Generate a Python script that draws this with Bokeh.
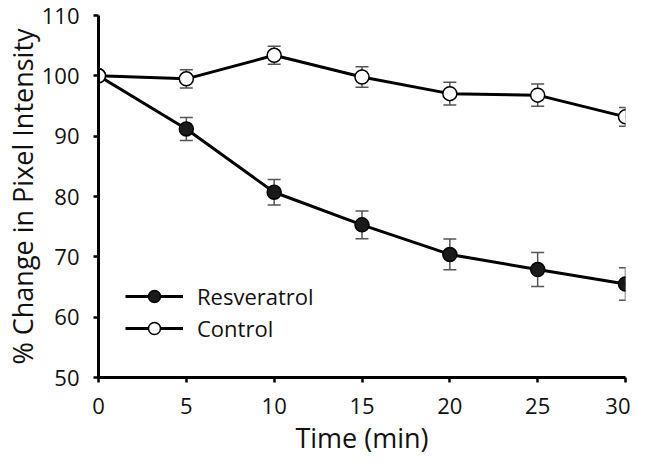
from bokeh.plotting import figure
from bokeh.models import Range1d, Whisker, ColumnDataSource, Legend, LegendItem, FixedTicker
from bokeh.embed import file_html
from bokeh.resources import INLINE

time_min = [0, 5, 10, 15, 20, 25, 30]
resveratrol = [100, 91.2, 80.7, 75.3, 70.4, 67.9, 65.5]
resveratrol_err = [0, 1.9, 2.1, 2.3, 2.55, 2.8, 2.7]
control = [100, 99.5, 103.4, 99.8, 97.05, 96.8, 93.2]
control_err = [0, 1.5, 1.5, 1.7, 1.9, 1.85, 1.55]
x_ticks = [0, 5, 10, 15, 20, 25, 30]
y_ticks = [50, 60, 70, 80, 90, 100, 110]
x_title = "Time (min)"
y_title = "% Change in Pixel Intensity"

FONT = "Open Sans"

p = figure(width=630, height=458, output_backend="svg", toolbar_location=None,
           x_range=Range1d(0, 30), y_range=Range1d(50, 110),
           min_border_left=92, min_border_right=5, min_border_top=15, min_border_bottom=80)
p.outline_line_color = None
p.grid.visible = False
p.background_fill_color = "white"
p.border_fill_color = "white"

for ax in (p.xaxis[0], p.yaxis[0]):
    ax.axis_line_width = 3
    ax.axis_line_color = "black"
    ax.major_tick_line_width = 2.5
    ax.major_tick_line_color = "black"
    ax.major_tick_out = 5
    ax.major_tick_in = 0
    ax.minor_tick_line_color = None
    ax.major_label_text_font = FONT
    ax.major_label_text_font_size = "22px"
    ax.major_label_text_color = "#111111"
    ax.axis_label_text_font = FONT
    ax.axis_label_text_font_size = "27px"
    ax.axis_label_text_font_style = "normal"
    ax.axis_label_text_color = "#111111"

p.xaxis.ticker = FixedTicker(ticks=x_ticks)
p.yaxis.ticker = FixedTicker(ticks=y_ticks)
p.xaxis.axis_label = x_title
p.yaxis.axis_label = y_title
p.xaxis.major_label_standoff = 15
p.yaxis.major_label_standoff = 14
p.xaxis.axis_label_standoff = 2
p.yaxis.axis_label_standoff = -2

src_r = ColumnDataSource(dict(x=time_min, y=resveratrol,
                              lo=[v - e for v, e in zip(resveratrol, resveratrol_err)],
                              hi=[v + e for v, e in zip(resveratrol, resveratrol_err)]))
src_c = ColumnDataSource(dict(x=time_min, y=control,
                              lo=[v - e for v, e in zip(control, control_err)],
                              hi=[v + e for v, e in zip(control, control_err)]))

for src in (src_r, src_c):
    w = Whisker(source=src, base="x", lower="lo", upper="hi",
                line_color="#555555", line_width=1.5)
    for head in (w.upper_head, w.lower_head):
        head.size = 13
        head.line_color = "#555555"
        head.line_width = 1.5
    p.add_layout(w)

lr = p.line("x", "y", source=src_r, line_color="black", line_width=3)
lc = p.line("x", "y", source=src_c, line_color="black", line_width=3)
sr = p.scatter("x", "y", source=src_r, size=14, fill_color="#1a1a1a", line_color="black", line_width=1.5)
sc = p.scatter("x", "y", source=src_c, size=14, fill_color="white", line_color="black", line_width=1.5)

legend = Legend(items=[LegendItem(label="Resveratrol", renderers=[lr, sr]),
                       LegendItem(label="Control", renderers=[lc, sc])],
                location=(27, 34), glyph_width=58, glyph_height=30,
                label_text_font=FONT, label_text_font_size="22px",
                label_text_color="#111111",
                label_standoff=14, spacing=2, padding=4,
                border_line_color=None, background_fill_alpha=0)
p.add_layout(legend)

open("out.html", "w").write(file_html(p, INLINE))
